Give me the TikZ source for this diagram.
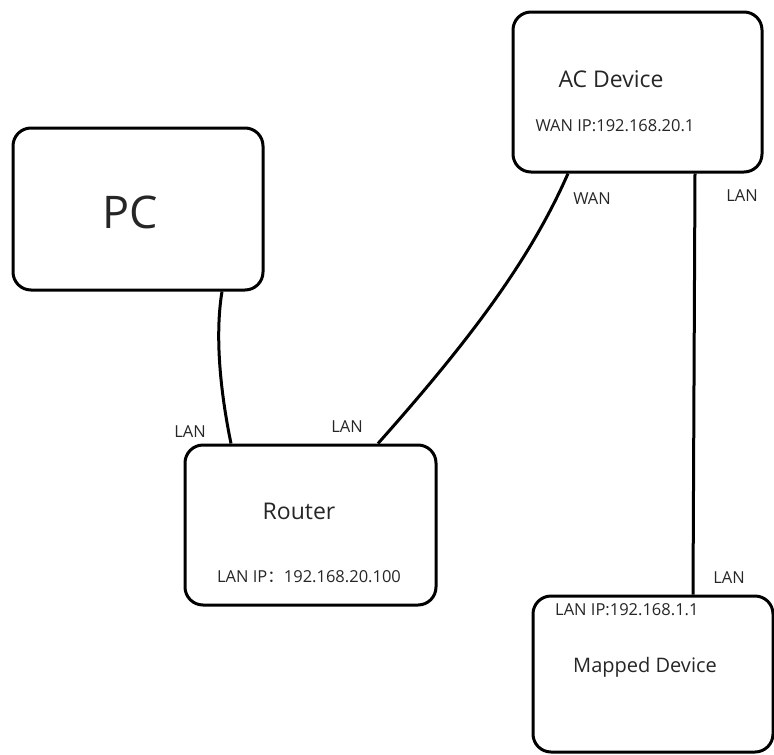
\documentclass[tikz,border=0pt]{standalone}
\usepackage{fontspec}
\setmainfont{Open Sans}
\newfontfamily\cjk{Noto Sans CJK SC}
\usetikzlibrary{calc}
\tikzset{
  box/.style={draw=black, line width=3pt, rounded corners=18pt, inner sep=0pt},
  wire/.style={draw=black, line width=3pt},
  lbl/.style={font=\fontsize{16.5}{18}\selectfont, text=black!85, inner sep=0pt},
  title/.style={text=black!85, inner sep=0pt},
}
\begin{document}
\begin{tikzpicture}[x=1pt,y=-1pt]
\useasboundingbox (0,0) rectangle (774,755);
% boxes
\node[box, minimum width=250pt, minimum height=162pt] (pc) at (138,209) {};
\node[box, minimum width=249pt, minimum height=160pt] (ac) at (637.5,92) {};
\node[box, minimum width=251pt, minimum height=160pt] (rt) at (310.5,525) {};
\node[box, minimum width=240pt, minimum height=156pt] (md) at (653,674) {};
% texts
\node[title, font=\fontsize{45}{48}\selectfont] (tpc) at (130,212) {PC};
\node[title, font=\fontsize{23}{26}\selectfont] (tac) at (611,79) {AC Device};
\node[lbl] (ipac) at (615,126) {WAN IP:192.168.20.1};
\node[title, font=\fontsize{23}{26}\selectfont] (trt) at (299,511) {Router};
\node[lbl] (iprt) at (309,577) {LAN IP{\cjk ：}192.168.20.100};
\node[lbl, anchor=west] (ipmd) at (555,610) {LAN IP:192.168.1.1};
\node[title, font=\fontsize{20}{22}\selectfont] (tmd) at (645,667) {Mapped Device};
% connectors
\draw[wire] ([xshift=84pt]pc.south) .. controls (214,340) and (222,400) .. ([xshift=-79.5pt]rt.north);
\draw[wire] ([xshift=-69.5pt]ac.south) .. controls (530,260) and (470,340) .. ([xshift=67.5pt]rt.north);
\draw[wire] ([xshift=57.5pt]ac.south) -- ([xshift=40pt]md.north);
% connector labels
\node[lbl] (l1) at (592,199) {WAN};
\node[lbl] (l2) at (742,196) {LAN};
\node[lbl] (l3) at (190,432) {LAN};
\node[lbl] (l4) at (347,427) {LAN};
\node[lbl] (l5) at (729,578) {LAN};
\end{tikzpicture}
\end{document}
